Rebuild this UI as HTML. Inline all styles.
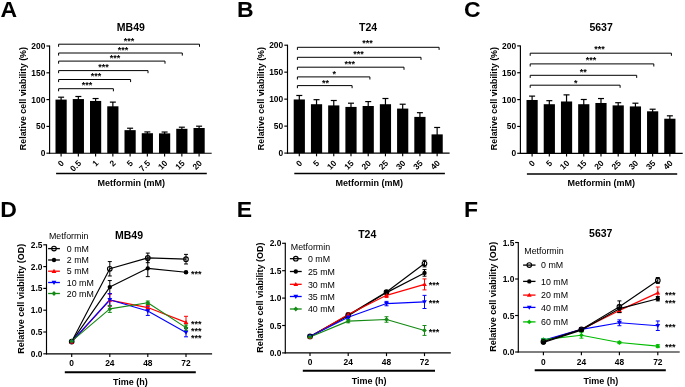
<!DOCTYPE html>
<html><head><meta charset="utf-8"><style>
html,body{margin:0;padding:0;background:#fff;width:685px;height:387px;overflow:hidden}
svg{display:block;will-change:transform;filter:blur(0.3px)}
text{font-family:"Liberation Sans", sans-serif}
</style></head><body>
<svg width="685" height="387" viewBox="0 0 685 387">
<rect width="685" height="387" fill="#fff"/>
<line x1="49.6" y1="45.5" x2="49.6" y2="153.77" stroke="#000" stroke-width="1.15" stroke-linecap="butt"/>
<line x1="46.4" y1="153.2" x2="49.6" y2="153.2" stroke="#000" stroke-width="1.15" stroke-linecap="butt"/>
<text x="45.3" y="156.2" font-size="8.4" font-weight="bold" text-anchor="end" fill="#000">0</text>
<line x1="46.4" y1="126.4" x2="49.6" y2="126.4" stroke="#000" stroke-width="1.15" stroke-linecap="butt"/>
<text x="45.3" y="129.4" font-size="8.4" font-weight="bold" text-anchor="end" fill="#000">50</text>
<line x1="46.4" y1="99.6" x2="49.6" y2="99.6" stroke="#000" stroke-width="1.15" stroke-linecap="butt"/>
<text x="45.3" y="102.6" font-size="8.4" font-weight="bold" text-anchor="end" fill="#000">100</text>
<line x1="46.4" y1="72.8" x2="49.6" y2="72.8" stroke="#000" stroke-width="1.15" stroke-linecap="butt"/>
<text x="45.3" y="75.8" font-size="8.4" font-weight="bold" text-anchor="end" fill="#000">150</text>
<line x1="46.4" y1="46" x2="49.6" y2="46" stroke="#000" stroke-width="1.15" stroke-linecap="butt"/>
<text x="45.3" y="49" font-size="8.4" font-weight="bold" text-anchor="end" fill="#000">200</text>
<line x1="49.02" y1="153.2" x2="211.7" y2="153.2" stroke="#000" stroke-width="1.15" stroke-linecap="butt"/>
<line x1="61.1" y1="97.19" x2="61.1" y2="100.6" stroke="#000" stroke-width="1.2" stroke-linecap="butt"/>
<line x1="58.1" y1="97.19" x2="64.1" y2="97.19" stroke="#000" stroke-width="1.2" stroke-linecap="butt"/>
<rect x="55.5" y="99.6" width="11.2" height="53.6" fill="#000"/>
<line x1="61.1" y1="153.2" x2="61.1" y2="156.4" stroke="#000" stroke-width="1.15" stroke-linecap="butt"/>
<text x="64.5" y="163.7" font-size="8.4" font-weight="bold" text-anchor="end" fill="#000" transform="rotate(-45 64.5 163.7)">0</text>
<line x1="78.35" y1="96.49" x2="78.35" y2="100.06" stroke="#000" stroke-width="1.2" stroke-linecap="butt"/>
<line x1="75.35" y1="96.49" x2="81.35" y2="96.49" stroke="#000" stroke-width="1.2" stroke-linecap="butt"/>
<rect x="72.75" y="99.06" width="11.2" height="54.14" fill="#000"/>
<line x1="78.35" y1="153.2" x2="78.35" y2="156.4" stroke="#000" stroke-width="1.15" stroke-linecap="butt"/>
<text x="81.75" y="163.7" font-size="8.4" font-weight="bold" text-anchor="end" fill="#000" transform="rotate(-45 81.75 163.7)">0.5</text>
<line x1="95.6" y1="98.53" x2="95.6" y2="101.94" stroke="#000" stroke-width="1.2" stroke-linecap="butt"/>
<line x1="92.6" y1="98.53" x2="98.6" y2="98.53" stroke="#000" stroke-width="1.2" stroke-linecap="butt"/>
<rect x="90" y="100.94" width="11.2" height="52.26" fill="#000"/>
<line x1="95.6" y1="153.2" x2="95.6" y2="156.4" stroke="#000" stroke-width="1.15" stroke-linecap="butt"/>
<text x="99" y="163.7" font-size="8.4" font-weight="bold" text-anchor="end" fill="#000" transform="rotate(-45 99 163.7)">1</text>
<line x1="112.85" y1="102.12" x2="112.85" y2="107.3" stroke="#000" stroke-width="1.2" stroke-linecap="butt"/>
<line x1="109.85" y1="102.12" x2="115.85" y2="102.12" stroke="#000" stroke-width="1.2" stroke-linecap="butt"/>
<rect x="107.25" y="106.3" width="11.2" height="46.9" fill="#000"/>
<line x1="112.85" y1="153.2" x2="112.85" y2="156.4" stroke="#000" stroke-width="1.15" stroke-linecap="butt"/>
<text x="116.25" y="163.7" font-size="8.4" font-weight="bold" text-anchor="end" fill="#000" transform="rotate(-45 116.25 163.7)">2</text>
<line x1="130.1" y1="128.22" x2="130.1" y2="131.15" stroke="#000" stroke-width="1.2" stroke-linecap="butt"/>
<line x1="127.1" y1="128.22" x2="133.1" y2="128.22" stroke="#000" stroke-width="1.2" stroke-linecap="butt"/>
<rect x="124.5" y="130.15" width="11.2" height="23.05" fill="#000"/>
<line x1="130.1" y1="153.2" x2="130.1" y2="156.4" stroke="#000" stroke-width="1.15" stroke-linecap="butt"/>
<text x="133.5" y="163.7" font-size="8.4" font-weight="bold" text-anchor="end" fill="#000" transform="rotate(-45 133.5 163.7)">5</text>
<line x1="147.35" y1="131.92" x2="147.35" y2="134.21" stroke="#000" stroke-width="1.2" stroke-linecap="butt"/>
<line x1="144.35" y1="131.92" x2="150.35" y2="131.92" stroke="#000" stroke-width="1.2" stroke-linecap="butt"/>
<rect x="141.75" y="133.21" width="11.2" height="19.99" fill="#000"/>
<line x1="147.35" y1="153.2" x2="147.35" y2="156.4" stroke="#000" stroke-width="1.15" stroke-linecap="butt"/>
<text x="150.75" y="163.7" font-size="8.4" font-weight="bold" text-anchor="end" fill="#000" transform="rotate(-45 150.75 163.7)">7.5</text>
<line x1="164.6" y1="132.03" x2="164.6" y2="134.37" stroke="#000" stroke-width="1.2" stroke-linecap="butt"/>
<line x1="161.6" y1="132.03" x2="167.6" y2="132.03" stroke="#000" stroke-width="1.2" stroke-linecap="butt"/>
<rect x="159" y="133.37" width="11.2" height="19.83" fill="#000"/>
<line x1="164.6" y1="153.2" x2="164.6" y2="156.4" stroke="#000" stroke-width="1.15" stroke-linecap="butt"/>
<text x="168" y="163.7" font-size="8.4" font-weight="bold" text-anchor="end" fill="#000" transform="rotate(-45 168 163.7)">10</text>
<line x1="181.85" y1="127.2" x2="181.85" y2="129.81" stroke="#000" stroke-width="1.2" stroke-linecap="butt"/>
<line x1="178.85" y1="127.2" x2="184.85" y2="127.2" stroke="#000" stroke-width="1.2" stroke-linecap="butt"/>
<rect x="176.25" y="128.81" width="11.2" height="24.39" fill="#000"/>
<line x1="181.85" y1="153.2" x2="181.85" y2="156.4" stroke="#000" stroke-width="1.15" stroke-linecap="butt"/>
<text x="185.25" y="163.7" font-size="8.4" font-weight="bold" text-anchor="end" fill="#000" transform="rotate(-45 185.25 163.7)">15</text>
<line x1="199.1" y1="126.19" x2="199.1" y2="129.01" stroke="#000" stroke-width="1.2" stroke-linecap="butt"/>
<line x1="196.1" y1="126.19" x2="202.1" y2="126.19" stroke="#000" stroke-width="1.2" stroke-linecap="butt"/>
<rect x="193.5" y="128.01" width="11.2" height="25.19" fill="#000"/>
<line x1="199.1" y1="153.2" x2="199.1" y2="156.4" stroke="#000" stroke-width="1.15" stroke-linecap="butt"/>
<text x="202.5" y="163.7" font-size="8.4" font-weight="bold" text-anchor="end" fill="#000" transform="rotate(-45 202.5 163.7)">20</text>
<line x1="56.1" y1="173.4" x2="206.8" y2="173.4" stroke="#000" stroke-width="1.5" stroke-linecap="butt"/>
<text x="97.5" y="185.7" font-size="9" font-weight="bold" text-anchor="start" fill="#000">Metformin (mM)</text>
<text x="25.8" y="98.6" font-size="8.9" font-weight="bold" text-anchor="middle" fill="#000" transform="rotate(-90 25.8 98.6)">Relative cell viability (%)</text>
<path d="M58.6 46.8V44.2H199.5V46.8" fill="none" stroke="#000" stroke-width="1.0"/>
<text x="129.05" y="44" font-size="9" font-weight="bold" text-anchor="middle" fill="#000">***</text>
<path d="M58.6 55.6V53H182.3V55.6" fill="none" stroke="#000" stroke-width="1.0"/>
<text x="123.05" y="53.1" font-size="9" font-weight="bold" text-anchor="middle" fill="#000">***</text>
<path d="M58.6 63.7V61.1H165V63.7" fill="none" stroke="#000" stroke-width="1.0"/>
<text x="114.9" y="61.1" font-size="9" font-weight="bold" text-anchor="middle" fill="#000">***</text>
<path d="M58.6 73.2V70.6H148V73.2" fill="none" stroke="#000" stroke-width="1.0"/>
<text x="103.5" y="70.3" font-size="9" font-weight="bold" text-anchor="middle" fill="#000">***</text>
<path d="M58.6 82.1V79.5H130.6V82.1" fill="none" stroke="#000" stroke-width="1.0"/>
<text x="96.1" y="78.5" font-size="9" font-weight="bold" text-anchor="middle" fill="#000">***</text>
<path d="M58.6 91.3V88.7H113.4V91.3" fill="none" stroke="#000" stroke-width="1.0"/>
<text x="87" y="87.7" font-size="9" font-weight="bold" text-anchor="middle" fill="#000">***</text>
<text x="116.8" y="30.6" font-size="10.5" font-weight="bold" text-anchor="start" fill="#000">MB49</text>
<text transform="translate(0.6 16.8) scale(1.07 1)" font-size="21.5" font-weight="bold">A</text>
<line x1="287.5" y1="44.7" x2="287.5" y2="153.67" stroke="#000" stroke-width="1.15" stroke-linecap="butt"/>
<line x1="284.3" y1="153.1" x2="287.5" y2="153.1" stroke="#000" stroke-width="1.15" stroke-linecap="butt"/>
<text x="283.2" y="156.1" font-size="8.4" font-weight="bold" text-anchor="end" fill="#000">0</text>
<line x1="284.3" y1="126.12" x2="287.5" y2="126.12" stroke="#000" stroke-width="1.15" stroke-linecap="butt"/>
<text x="283.2" y="129.12" font-size="8.4" font-weight="bold" text-anchor="end" fill="#000">50</text>
<line x1="284.3" y1="99.15" x2="287.5" y2="99.15" stroke="#000" stroke-width="1.15" stroke-linecap="butt"/>
<text x="283.2" y="102.15" font-size="8.4" font-weight="bold" text-anchor="end" fill="#000">100</text>
<line x1="284.3" y1="72.17" x2="287.5" y2="72.17" stroke="#000" stroke-width="1.15" stroke-linecap="butt"/>
<text x="283.2" y="75.17" font-size="8.4" font-weight="bold" text-anchor="end" fill="#000">150</text>
<line x1="284.3" y1="45.2" x2="287.5" y2="45.2" stroke="#000" stroke-width="1.15" stroke-linecap="butt"/>
<text x="283.2" y="48.2" font-size="8.4" font-weight="bold" text-anchor="end" fill="#000">200</text>
<line x1="286.93" y1="153.1" x2="449.6" y2="153.1" stroke="#000" stroke-width="1.15" stroke-linecap="butt"/>
<line x1="299.3" y1="95.48" x2="299.3" y2="100.47" stroke="#000" stroke-width="1.2" stroke-linecap="butt"/>
<line x1="296.3" y1="95.48" x2="302.3" y2="95.48" stroke="#000" stroke-width="1.2" stroke-linecap="butt"/>
<rect x="293.7" y="99.47" width="11.2" height="53.63" fill="#000"/>
<line x1="299.3" y1="153.1" x2="299.3" y2="156.3" stroke="#000" stroke-width="1.15" stroke-linecap="butt"/>
<text x="302.7" y="163.7" font-size="8.4" font-weight="bold" text-anchor="end" fill="#000" transform="rotate(-45 302.7 163.7)">0</text>
<line x1="316.53" y1="99.69" x2="316.53" y2="105.22" stroke="#000" stroke-width="1.2" stroke-linecap="butt"/>
<line x1="313.53" y1="99.69" x2="319.53" y2="99.69" stroke="#000" stroke-width="1.2" stroke-linecap="butt"/>
<rect x="310.93" y="104.22" width="11.2" height="48.88" fill="#000"/>
<line x1="316.53" y1="153.1" x2="316.53" y2="156.3" stroke="#000" stroke-width="1.15" stroke-linecap="butt"/>
<text x="319.93" y="163.7" font-size="8.4" font-weight="bold" text-anchor="end" fill="#000" transform="rotate(-45 319.93 163.7)">5</text>
<line x1="333.76" y1="100.5" x2="333.76" y2="106.41" stroke="#000" stroke-width="1.2" stroke-linecap="butt"/>
<line x1="330.76" y1="100.5" x2="336.76" y2="100.5" stroke="#000" stroke-width="1.2" stroke-linecap="butt"/>
<rect x="328.16" y="105.41" width="11.2" height="47.69" fill="#000"/>
<line x1="333.76" y1="153.1" x2="333.76" y2="156.3" stroke="#000" stroke-width="1.15" stroke-linecap="butt"/>
<text x="337.16" y="163.7" font-size="8.4" font-weight="bold" text-anchor="end" fill="#000" transform="rotate(-45 337.16 163.7)">10</text>
<line x1="350.99" y1="103.2" x2="350.99" y2="107.92" stroke="#000" stroke-width="1.2" stroke-linecap="butt"/>
<line x1="347.99" y1="103.2" x2="353.99" y2="103.2" stroke="#000" stroke-width="1.2" stroke-linecap="butt"/>
<rect x="345.39" y="106.92" width="11.2" height="46.18" fill="#000"/>
<line x1="350.99" y1="153.1" x2="350.99" y2="156.3" stroke="#000" stroke-width="1.15" stroke-linecap="butt"/>
<text x="354.39" y="163.7" font-size="8.4" font-weight="bold" text-anchor="end" fill="#000" transform="rotate(-45 354.39 163.7)">15</text>
<line x1="368.22" y1="101.58" x2="368.22" y2="107" stroke="#000" stroke-width="1.2" stroke-linecap="butt"/>
<line x1="365.22" y1="101.58" x2="371.22" y2="101.58" stroke="#000" stroke-width="1.2" stroke-linecap="butt"/>
<rect x="362.62" y="106" width="11.2" height="47.1" fill="#000"/>
<line x1="368.22" y1="153.1" x2="368.22" y2="156.3" stroke="#000" stroke-width="1.15" stroke-linecap="butt"/>
<text x="371.62" y="163.7" font-size="8.4" font-weight="bold" text-anchor="end" fill="#000" transform="rotate(-45 371.62 163.7)">20</text>
<line x1="385.45" y1="98.5" x2="385.45" y2="105.22" stroke="#000" stroke-width="1.2" stroke-linecap="butt"/>
<line x1="382.45" y1="98.5" x2="388.45" y2="98.5" stroke="#000" stroke-width="1.2" stroke-linecap="butt"/>
<rect x="379.85" y="104.22" width="11.2" height="48.88" fill="#000"/>
<line x1="385.45" y1="153.1" x2="385.45" y2="156.3" stroke="#000" stroke-width="1.15" stroke-linecap="butt"/>
<text x="388.85" y="163.7" font-size="8.4" font-weight="bold" text-anchor="end" fill="#000" transform="rotate(-45 388.85 163.7)">25</text>
<line x1="402.68" y1="104.22" x2="402.68" y2="109.59" stroke="#000" stroke-width="1.2" stroke-linecap="butt"/>
<line x1="399.68" y1="104.22" x2="405.68" y2="104.22" stroke="#000" stroke-width="1.2" stroke-linecap="butt"/>
<rect x="397.08" y="108.59" width="11.2" height="44.51" fill="#000"/>
<line x1="402.68" y1="153.1" x2="402.68" y2="156.3" stroke="#000" stroke-width="1.15" stroke-linecap="butt"/>
<text x="406.08" y="163.7" font-size="8.4" font-weight="bold" text-anchor="end" fill="#000" transform="rotate(-45 406.08 163.7)">30</text>
<line x1="419.91" y1="112.69" x2="419.91" y2="117.9" stroke="#000" stroke-width="1.2" stroke-linecap="butt"/>
<line x1="416.91" y1="112.69" x2="422.91" y2="112.69" stroke="#000" stroke-width="1.2" stroke-linecap="butt"/>
<rect x="414.31" y="116.9" width="11.2" height="36.2" fill="#000"/>
<line x1="419.91" y1="153.1" x2="419.91" y2="156.3" stroke="#000" stroke-width="1.15" stroke-linecap="butt"/>
<text x="423.31" y="163.7" font-size="8.4" font-weight="bold" text-anchor="end" fill="#000" transform="rotate(-45 423.31 163.7)">35</text>
<line x1="437.14" y1="127.47" x2="437.14" y2="135.38" stroke="#000" stroke-width="1.2" stroke-linecap="butt"/>
<line x1="434.14" y1="127.47" x2="440.14" y2="127.47" stroke="#000" stroke-width="1.2" stroke-linecap="butt"/>
<rect x="431.54" y="134.38" width="11.2" height="18.72" fill="#000"/>
<line x1="437.14" y1="153.1" x2="437.14" y2="156.3" stroke="#000" stroke-width="1.15" stroke-linecap="butt"/>
<text x="440.54" y="163.7" font-size="8.4" font-weight="bold" text-anchor="end" fill="#000" transform="rotate(-45 440.54 163.7)">40</text>
<line x1="294.3" y1="173.5" x2="444.9" y2="173.5" stroke="#000" stroke-width="1.5" stroke-linecap="butt"/>
<text x="335.5" y="185.9" font-size="9" font-weight="bold" text-anchor="start" fill="#000">Metformin (mM)</text>
<text x="264" y="98.6" font-size="8.9" font-weight="bold" text-anchor="middle" fill="#000" transform="rotate(-90 264 98.6)">Relative cell viability (%)</text>
<path d="M297.4 49.9V47.3H439.1V49.9" fill="none" stroke="#000" stroke-width="1.0"/>
<text x="367.4" y="46.3" font-size="9" font-weight="bold" text-anchor="middle" fill="#000">***</text>
<path d="M297.4 59.9V57.3H421V59.9" fill="none" stroke="#000" stroke-width="1.0"/>
<text x="358.4" y="57.4" font-size="9" font-weight="bold" text-anchor="middle" fill="#000">***</text>
<path d="M297.4 69.8V67.2H404V69.8" fill="none" stroke="#000" stroke-width="1.0"/>
<text x="349.8" y="67.4" font-size="9" font-weight="bold" text-anchor="middle" fill="#000">***</text>
<path d="M297.4 79.5V76.9H369.9V79.5" fill="none" stroke="#000" stroke-width="1.0"/>
<text x="334.25" y="76.8" font-size="9" font-weight="bold" text-anchor="middle" fill="#000">*</text>
<path d="M297.4 88.2V85.6H352.1V88.2" fill="none" stroke="#000" stroke-width="1.0"/>
<text x="325.45" y="85.7" font-size="9" font-weight="bold" text-anchor="middle" fill="#000">**</text>
<text x="359.1" y="30.6" font-size="10.5" font-weight="bold" text-anchor="start" fill="#000">T24</text>
<text transform="translate(236.9 16.8) scale(1.07 1)" font-size="21.5" font-weight="bold">B</text>
<line x1="520.4" y1="45.4" x2="520.4" y2="153.88" stroke="#000" stroke-width="1.15" stroke-linecap="butt"/>
<line x1="517.2" y1="153.3" x2="520.4" y2="153.3" stroke="#000" stroke-width="1.15" stroke-linecap="butt"/>
<text x="516.1" y="156.3" font-size="8.4" font-weight="bold" text-anchor="end" fill="#000">0</text>
<line x1="517.2" y1="126.45" x2="520.4" y2="126.45" stroke="#000" stroke-width="1.15" stroke-linecap="butt"/>
<text x="516.1" y="129.45" font-size="8.4" font-weight="bold" text-anchor="end" fill="#000">50</text>
<line x1="517.2" y1="99.6" x2="520.4" y2="99.6" stroke="#000" stroke-width="1.15" stroke-linecap="butt"/>
<text x="516.1" y="102.6" font-size="8.4" font-weight="bold" text-anchor="end" fill="#000">100</text>
<line x1="517.2" y1="72.75" x2="520.4" y2="72.75" stroke="#000" stroke-width="1.15" stroke-linecap="butt"/>
<text x="516.1" y="75.75" font-size="8.4" font-weight="bold" text-anchor="end" fill="#000">150</text>
<line x1="517.2" y1="45.9" x2="520.4" y2="45.9" stroke="#000" stroke-width="1.15" stroke-linecap="butt"/>
<text x="516.1" y="48.9" font-size="8.4" font-weight="bold" text-anchor="end" fill="#000">200</text>
<line x1="519.82" y1="153.3" x2="682.7" y2="153.3" stroke="#000" stroke-width="1.15" stroke-linecap="butt"/>
<line x1="532.1" y1="96.11" x2="532.1" y2="100.98" stroke="#000" stroke-width="1.2" stroke-linecap="butt"/>
<line x1="529.1" y1="96.11" x2="535.1" y2="96.11" stroke="#000" stroke-width="1.2" stroke-linecap="butt"/>
<rect x="526.5" y="99.98" width="11.2" height="53.32" fill="#000"/>
<line x1="532.1" y1="153.3" x2="532.1" y2="156.5" stroke="#000" stroke-width="1.15" stroke-linecap="butt"/>
<text x="535.5" y="163.7" font-size="8.4" font-weight="bold" text-anchor="end" fill="#000" transform="rotate(-45 535.5 163.7)">0</text>
<line x1="549.32" y1="100.67" x2="549.32" y2="105.22" stroke="#000" stroke-width="1.2" stroke-linecap="butt"/>
<line x1="546.32" y1="100.67" x2="552.32" y2="100.67" stroke="#000" stroke-width="1.2" stroke-linecap="butt"/>
<rect x="543.72" y="104.22" width="11.2" height="49.08" fill="#000"/>
<line x1="549.32" y1="153.3" x2="549.32" y2="156.5" stroke="#000" stroke-width="1.15" stroke-linecap="butt"/>
<text x="552.72" y="163.7" font-size="8.4" font-weight="bold" text-anchor="end" fill="#000" transform="rotate(-45 552.72 163.7)">5</text>
<line x1="566.54" y1="94.87" x2="566.54" y2="102.48" stroke="#000" stroke-width="1.2" stroke-linecap="butt"/>
<line x1="563.54" y1="94.87" x2="569.54" y2="94.87" stroke="#000" stroke-width="1.2" stroke-linecap="butt"/>
<rect x="560.94" y="101.48" width="11.2" height="51.82" fill="#000"/>
<line x1="566.54" y1="153.3" x2="566.54" y2="156.5" stroke="#000" stroke-width="1.15" stroke-linecap="butt"/>
<text x="569.94" y="163.7" font-size="8.4" font-weight="bold" text-anchor="end" fill="#000" transform="rotate(-45 569.94 163.7)">10</text>
<line x1="583.76" y1="99.49" x2="583.76" y2="105.22" stroke="#000" stroke-width="1.2" stroke-linecap="butt"/>
<line x1="580.76" y1="99.49" x2="586.76" y2="99.49" stroke="#000" stroke-width="1.2" stroke-linecap="butt"/>
<rect x="578.16" y="104.22" width="11.2" height="49.08" fill="#000"/>
<line x1="583.76" y1="153.3" x2="583.76" y2="156.5" stroke="#000" stroke-width="1.15" stroke-linecap="butt"/>
<text x="587.16" y="163.7" font-size="8.4" font-weight="bold" text-anchor="end" fill="#000" transform="rotate(-45 587.16 163.7)">15</text>
<line x1="600.98" y1="98.53" x2="600.98" y2="103.98" stroke="#000" stroke-width="1.2" stroke-linecap="butt"/>
<line x1="597.98" y1="98.53" x2="603.98" y2="98.53" stroke="#000" stroke-width="1.2" stroke-linecap="butt"/>
<rect x="595.38" y="102.98" width="11.2" height="50.32" fill="#000"/>
<line x1="600.98" y1="153.3" x2="600.98" y2="156.5" stroke="#000" stroke-width="1.15" stroke-linecap="butt"/>
<text x="604.38" y="163.7" font-size="8.4" font-weight="bold" text-anchor="end" fill="#000" transform="rotate(-45 604.38 163.7)">20</text>
<line x1="618.2" y1="102.71" x2="618.2" y2="106.4" stroke="#000" stroke-width="1.2" stroke-linecap="butt"/>
<line x1="615.2" y1="102.71" x2="621.2" y2="102.71" stroke="#000" stroke-width="1.2" stroke-linecap="butt"/>
<rect x="612.6" y="105.4" width="11.2" height="47.9" fill="#000"/>
<line x1="618.2" y1="153.3" x2="618.2" y2="156.5" stroke="#000" stroke-width="1.15" stroke-linecap="butt"/>
<text x="621.6" y="163.7" font-size="8.4" font-weight="bold" text-anchor="end" fill="#000" transform="rotate(-45 621.6 163.7)">25</text>
<line x1="635.42" y1="103.2" x2="635.42" y2="107.42" stroke="#000" stroke-width="1.2" stroke-linecap="butt"/>
<line x1="632.42" y1="103.2" x2="638.42" y2="103.2" stroke="#000" stroke-width="1.2" stroke-linecap="butt"/>
<rect x="629.82" y="106.42" width="11.2" height="46.88" fill="#000"/>
<line x1="635.42" y1="153.3" x2="635.42" y2="156.5" stroke="#000" stroke-width="1.15" stroke-linecap="butt"/>
<text x="638.82" y="163.7" font-size="8.4" font-weight="bold" text-anchor="end" fill="#000" transform="rotate(-45 638.82 163.7)">30</text>
<line x1="652.64" y1="109.21" x2="652.64" y2="112.31" stroke="#000" stroke-width="1.2" stroke-linecap="butt"/>
<line x1="649.64" y1="109.21" x2="655.64" y2="109.21" stroke="#000" stroke-width="1.2" stroke-linecap="butt"/>
<rect x="647.04" y="111.31" width="11.2" height="41.99" fill="#000"/>
<line x1="652.64" y1="153.3" x2="652.64" y2="156.5" stroke="#000" stroke-width="1.15" stroke-linecap="butt"/>
<text x="656.04" y="163.7" font-size="8.4" font-weight="bold" text-anchor="end" fill="#000" transform="rotate(-45 656.04 163.7)">35</text>
<line x1="669.86" y1="115.82" x2="669.86" y2="119.72" stroke="#000" stroke-width="1.2" stroke-linecap="butt"/>
<line x1="666.86" y1="115.82" x2="672.86" y2="115.82" stroke="#000" stroke-width="1.2" stroke-linecap="butt"/>
<rect x="664.26" y="118.72" width="11.2" height="34.58" fill="#000"/>
<line x1="669.86" y1="153.3" x2="669.86" y2="156.5" stroke="#000" stroke-width="1.15" stroke-linecap="butt"/>
<text x="673.26" y="163.7" font-size="8.4" font-weight="bold" text-anchor="end" fill="#000" transform="rotate(-45 673.26 163.7)">40</text>
<line x1="526.9" y1="174" x2="677.2" y2="174" stroke="#000" stroke-width="1.5" stroke-linecap="butt"/>
<text x="567.6" y="186.2" font-size="9" font-weight="bold" text-anchor="start" fill="#000">Metformin (mM)</text>
<text x="496.6" y="98.6" font-size="8.9" font-weight="bold" text-anchor="middle" fill="#000" transform="rotate(-90 496.6 98.6)">Relative cell viability (%)</text>
<path d="M530.2 55.8V53.2H671.4V55.8" fill="none" stroke="#000" stroke-width="1.0"/>
<text x="599.4" y="52.2" font-size="9" font-weight="bold" text-anchor="middle" fill="#000">***</text>
<path d="M530.2 66.5V63.9H653.8V66.5" fill="none" stroke="#000" stroke-width="1.0"/>
<text x="591" y="63.4" font-size="9" font-weight="bold" text-anchor="middle" fill="#000">***</text>
<path d="M530.2 77.9V75.3H636.7V77.9" fill="none" stroke="#000" stroke-width="1.0"/>
<text x="583.25" y="74.7" font-size="9" font-weight="bold" text-anchor="middle" fill="#000">**</text>
<path d="M530.2 87.8V85.2H620.1V87.8" fill="none" stroke="#000" stroke-width="1.0"/>
<text x="575.8" y="85.5" font-size="9" font-weight="bold" text-anchor="middle" fill="#000">*</text>
<text x="589.4" y="31" font-size="10.5" font-weight="bold" text-anchor="start" fill="#000">5637</text>
<text transform="translate(464 16.8) scale(1.07 1)" font-size="21.5" font-weight="bold">C</text>
<line x1="46.5" y1="244.3" x2="46.5" y2="354.38" stroke="#000" stroke-width="1.15" stroke-linecap="butt"/>
<line x1="43.3" y1="353.8" x2="46.5" y2="353.8" stroke="#000" stroke-width="1.15" stroke-linecap="butt"/>
<text x="42.5" y="356.8" font-size="8.4" font-weight="bold" text-anchor="end" fill="#000">0.0</text>
<line x1="43.3" y1="332" x2="46.5" y2="332" stroke="#000" stroke-width="1.15" stroke-linecap="butt"/>
<text x="42.5" y="335" font-size="8.4" font-weight="bold" text-anchor="end" fill="#000">0.5</text>
<line x1="43.3" y1="310.2" x2="46.5" y2="310.2" stroke="#000" stroke-width="1.15" stroke-linecap="butt"/>
<text x="42.5" y="313.2" font-size="8.4" font-weight="bold" text-anchor="end" fill="#000">1.0</text>
<line x1="43.3" y1="288.4" x2="46.5" y2="288.4" stroke="#000" stroke-width="1.15" stroke-linecap="butt"/>
<text x="42.5" y="291.4" font-size="8.4" font-weight="bold" text-anchor="end" fill="#000">1.5</text>
<line x1="43.3" y1="266.6" x2="46.5" y2="266.6" stroke="#000" stroke-width="1.15" stroke-linecap="butt"/>
<text x="42.5" y="269.6" font-size="8.4" font-weight="bold" text-anchor="end" fill="#000">2.0</text>
<line x1="43.3" y1="244.8" x2="46.5" y2="244.8" stroke="#000" stroke-width="1.15" stroke-linecap="butt"/>
<text x="42.5" y="247.8" font-size="8.4" font-weight="bold" text-anchor="end" fill="#000">2.5</text>
<line x1="45.92" y1="353.8" x2="212.1" y2="353.8" stroke="#000" stroke-width="1.15" stroke-linecap="butt"/>
<line x1="71.7" y1="353.8" x2="71.7" y2="357" stroke="#000" stroke-width="1.15" stroke-linecap="butt"/>
<text x="71.7" y="366" font-size="8.4" font-weight="bold" text-anchor="middle" fill="#000">0</text>
<line x1="109.8" y1="353.8" x2="109.8" y2="357" stroke="#000" stroke-width="1.15" stroke-linecap="butt"/>
<text x="109.8" y="366" font-size="8.4" font-weight="bold" text-anchor="middle" fill="#000">24</text>
<line x1="147.8" y1="353.8" x2="147.8" y2="357" stroke="#000" stroke-width="1.15" stroke-linecap="butt"/>
<text x="147.8" y="366" font-size="8.4" font-weight="bold" text-anchor="middle" fill="#000">48</text>
<line x1="186" y1="353.8" x2="186" y2="357" stroke="#000" stroke-width="1.15" stroke-linecap="butt"/>
<text x="186" y="366" font-size="8.4" font-weight="bold" text-anchor="middle" fill="#000">72</text>
<line x1="64.8" y1="372.2" x2="195.8" y2="372.2" stroke="#000" stroke-width="2" stroke-linecap="butt"/>
<text x="130.3" y="384.8" font-size="9" font-weight="bold" text-anchor="middle" fill="#000">Time (h)</text>
<text x="24.3" y="298.75" font-size="9" font-weight="bold" text-anchor="middle" fill="#000" transform="rotate(-90 24.3 298.75)">Relative cell viability (OD)</text>
<polyline points="71.7,341.59 109.8,268.78 147.8,257.88 186,259.19" fill="none" stroke="#000" stroke-width="1.15" stroke-linejoin="round"/>
<path d="M71.7 340.72V342.46M69.7 340.72H73.7M69.7 342.46H73.7" stroke="#000" stroke-width="1.0" fill="none"/>
<path d="M109.8 261.59V275.97M107.8 261.59H111.8M107.8 275.97H111.8" stroke="#000" stroke-width="1.0" fill="none"/>
<path d="M147.8 253.08V262.68M145.8 253.08H149.8M145.8 262.68H149.8" stroke="#000" stroke-width="1.0" fill="none"/>
<path d="M186 254.39V263.98M184 254.39H188M184 263.98H188" stroke="#000" stroke-width="1.0" fill="none"/>
<polyline points="71.7,341.59 109.8,287.09 147.8,268.34 186,272.27" fill="none" stroke="#000" stroke-width="1.15" stroke-linejoin="round"/>
<path d="M71.7 340.72V342.46M69.7 340.72H73.7M69.7 342.46H73.7" stroke="#000" stroke-width="1.0" fill="none"/>
<path d="M109.8 280.55V293.63M107.8 280.55H111.8M107.8 293.63H111.8" stroke="#000" stroke-width="1.0" fill="none"/>
<path d="M147.8 260.06V276.63M145.8 260.06H149.8M145.8 276.63H149.8" stroke="#000" stroke-width="1.0" fill="none"/>
<path d="M186 271.4V273.14M184 271.4H188M184 273.14H188" stroke="#000" stroke-width="1.0" fill="none"/>
<polyline points="71.7,342.03 109.8,300.17 147.8,307.58 186,322.41" fill="none" stroke="#ff0000" stroke-width="1.15" stroke-linejoin="round"/>
<path d="M71.7 341.16V342.9M69.7 341.16H73.7M69.7 342.9H73.7" stroke="#ff0000" stroke-width="1.0" fill="none"/>
<path d="M109.8 294.07V306.28M107.8 294.07H111.8M107.8 306.28H111.8" stroke="#ff0000" stroke-width="1.0" fill="none"/>
<path d="M147.8 305.4V309.76M145.8 305.4H149.8M145.8 309.76H149.8" stroke="#ff0000" stroke-width="1.0" fill="none"/>
<path d="M186 316.3V328.51M184 316.3H188M184 328.51H188" stroke="#ff0000" stroke-width="1.0" fill="none"/>
<polyline points="71.7,341.59 109.8,299.74 147.8,311.07 186,332.44" fill="none" stroke="#0000ff" stroke-width="1.15" stroke-linejoin="round"/>
<path d="M71.7 340.72V342.46M69.7 340.72H73.7M69.7 342.46H73.7" stroke="#0000ff" stroke-width="1.0" fill="none"/>
<path d="M109.8 293.63V305.84M107.8 293.63H111.8M107.8 305.84H111.8" stroke="#0000ff" stroke-width="1.0" fill="none"/>
<path d="M147.8 306.71V315.43M145.8 306.71H149.8M145.8 315.43H149.8" stroke="#0000ff" stroke-width="1.0" fill="none"/>
<path d="M186 328.08V336.8M184 328.08H188M184 336.8H188" stroke="#0000ff" stroke-width="1.0" fill="none"/>
<polyline points="71.7,341.16 109.8,308.89 147.8,302.79 186,327.64" fill="none" stroke="#138a13" stroke-width="1.15" stroke-linejoin="round"/>
<path d="M71.7 340.28V342.03M69.7 340.28H73.7M69.7 342.03H73.7" stroke="#138a13" stroke-width="1.0" fill="none"/>
<path d="M109.8 305.4V312.38M107.8 305.4H111.8M107.8 312.38H111.8" stroke="#138a13" stroke-width="1.0" fill="none"/>
<path d="M147.8 301.04V304.53M145.8 301.04H149.8M145.8 304.53H149.8" stroke="#138a13" stroke-width="1.0" fill="none"/>
<path d="M186 325.02V330.26M184 325.02H188M184 330.26H188" stroke="#138a13" stroke-width="1.0" fill="none"/>
<circle cx="71.7" cy="341.59" r="2.3" fill="none" stroke="#000" stroke-width="1.1"/>
<circle cx="109.8" cy="268.78" r="2.3" fill="none" stroke="#000" stroke-width="1.1"/>
<circle cx="147.8" cy="257.88" r="2.3" fill="none" stroke="#000" stroke-width="1.1"/>
<circle cx="186" cy="259.19" r="2.3" fill="none" stroke="#000" stroke-width="1.1"/>
<circle cx="71.7" cy="341.59" r="2.2" fill="#000"/>
<circle cx="109.8" cy="287.09" r="2.2" fill="#000"/>
<circle cx="147.8" cy="268.34" r="2.2" fill="#000"/>
<circle cx="186" cy="272.27" r="2.2" fill="#000"/>
<path d="M71.7 339.63L74.1 343.73L69.3 343.73Z" fill="#ff0000"/>
<path d="M109.8 297.77L112.2 301.87L107.4 301.87Z" fill="#ff0000"/>
<path d="M147.8 305.18L150.2 309.28L145.4 309.28Z" fill="#ff0000"/>
<path d="M186 320.01L188.4 324.11L183.6 324.11Z" fill="#ff0000"/>
<path d="M71.7 343.99L74.1 339.89L69.3 339.89Z" fill="#0000ff"/>
<path d="M109.8 302.14L112.2 298.04L107.4 298.04Z" fill="#0000ff"/>
<path d="M147.8 313.47L150.2 309.37L145.4 309.37Z" fill="#0000ff"/>
<path d="M186 334.84L188.4 330.74L183.6 330.74Z" fill="#0000ff"/>
<path d="M71.7 338.76L74 341.16L71.7 343.56L69.4 341.16Z" fill="#138a13"/>
<path d="M109.8 306.49L112.1 308.89L109.8 311.29L107.5 308.89Z" fill="#138a13"/>
<path d="M147.8 300.39L150.1 302.79L147.8 305.19L145.5 302.79Z" fill="#138a13"/>
<path d="M186 325.24L188.3 327.64L186 330.04L183.7 327.64Z" fill="#138a13"/>
<text x="191.1" y="277.1" font-size="9" font-weight="bold" text-anchor="start" fill="#000">***</text>
<text x="191.1" y="327" font-size="9" font-weight="bold" text-anchor="start" fill="#000">***</text>
<text x="191.1" y="334.1" font-size="9" font-weight="bold" text-anchor="start" fill="#000">***</text>
<text x="191.1" y="340.9" font-size="9" font-weight="bold" text-anchor="start" fill="#000">***</text>
<text x="49" y="239.2" font-size="8.85" font-weight="normal" text-anchor="start" fill="#000">Metformin</text>
<line x1="48.1" y1="248.6" x2="59.9" y2="248.6" stroke="#000" stroke-width="1.3" stroke-linecap="butt"/>
<circle cx="54" cy="248.6" r="2.3" fill="none" stroke="#000" stroke-width="1.1"/>
<text x="66.8" y="251.8" font-size="8.85" font-weight="normal" text-anchor="start" fill="#000">0 mM</text>
<line x1="48.1" y1="260" x2="59.9" y2="260" stroke="#000" stroke-width="1.3" stroke-linecap="butt"/>
<circle cx="54" cy="260" r="2.2" fill="#000"/>
<text x="66.8" y="263.2" font-size="8.85" font-weight="normal" text-anchor="start" fill="#000">2 mM</text>
<line x1="48.1" y1="271.2" x2="59.9" y2="271.2" stroke="#ff0000" stroke-width="1.3" stroke-linecap="butt"/>
<path d="M54 268.8L56.4 272.9L51.6 272.9Z" fill="#ff0000"/>
<text x="66.8" y="274.4" font-size="8.85" font-weight="normal" text-anchor="start" fill="#000">5 mM</text>
<line x1="48.1" y1="282.5" x2="59.9" y2="282.5" stroke="#0000ff" stroke-width="1.3" stroke-linecap="butt"/>
<path d="M54 284.9L56.4 280.8L51.6 280.8Z" fill="#0000ff"/>
<text x="66.8" y="285.7" font-size="8.85" font-weight="normal" text-anchor="start" fill="#000">10 mM</text>
<line x1="48.1" y1="293.5" x2="59.9" y2="293.5" stroke="#138a13" stroke-width="1.3" stroke-linecap="butt"/>
<path d="M54 291.1L56.3 293.5L54 295.9L51.7 293.5Z" fill="#138a13"/>
<text x="66.8" y="296.7" font-size="8.85" font-weight="normal" text-anchor="start" fill="#000">20 mM</text>
<text x="115" y="238.6" font-size="10.5" font-weight="bold" text-anchor="start" fill="#000">MB49</text>
<text transform="translate(0.2 216.5) scale(1.07 1)" font-size="21.5" font-weight="bold">D</text>
<line x1="285.3" y1="242.8" x2="285.3" y2="353.47" stroke="#000" stroke-width="1.15" stroke-linecap="butt"/>
<line x1="282.1" y1="352.9" x2="285.3" y2="352.9" stroke="#000" stroke-width="1.15" stroke-linecap="butt"/>
<text x="281.3" y="355.9" font-size="8.4" font-weight="bold" text-anchor="end" fill="#000">0.0</text>
<line x1="282.1" y1="325.5" x2="285.3" y2="325.5" stroke="#000" stroke-width="1.15" stroke-linecap="butt"/>
<text x="281.3" y="328.5" font-size="8.4" font-weight="bold" text-anchor="end" fill="#000">0.5</text>
<line x1="282.1" y1="298.1" x2="285.3" y2="298.1" stroke="#000" stroke-width="1.15" stroke-linecap="butt"/>
<text x="281.3" y="301.1" font-size="8.4" font-weight="bold" text-anchor="end" fill="#000">1.0</text>
<line x1="282.1" y1="270.7" x2="285.3" y2="270.7" stroke="#000" stroke-width="1.15" stroke-linecap="butt"/>
<text x="281.3" y="273.7" font-size="8.4" font-weight="bold" text-anchor="end" fill="#000">1.5</text>
<line x1="282.1" y1="243.3" x2="285.3" y2="243.3" stroke="#000" stroke-width="1.15" stroke-linecap="butt"/>
<text x="281.3" y="246.3" font-size="8.4" font-weight="bold" text-anchor="end" fill="#000">2.0</text>
<line x1="284.73" y1="352.9" x2="450.8" y2="352.9" stroke="#000" stroke-width="1.15" stroke-linecap="butt"/>
<line x1="310" y1="352.9" x2="310" y2="356.1" stroke="#000" stroke-width="1.15" stroke-linecap="butt"/>
<text x="310" y="365.3" font-size="8.4" font-weight="bold" text-anchor="middle" fill="#000">0</text>
<line x1="348.2" y1="352.9" x2="348.2" y2="356.1" stroke="#000" stroke-width="1.15" stroke-linecap="butt"/>
<text x="348.2" y="365.3" font-size="8.4" font-weight="bold" text-anchor="middle" fill="#000">24</text>
<line x1="386.5" y1="352.9" x2="386.5" y2="356.1" stroke="#000" stroke-width="1.15" stroke-linecap="butt"/>
<text x="386.5" y="365.3" font-size="8.4" font-weight="bold" text-anchor="middle" fill="#000">48</text>
<line x1="424.5" y1="352.9" x2="424.5" y2="356.1" stroke="#000" stroke-width="1.15" stroke-linecap="butt"/>
<text x="424.5" y="365.3" font-size="8.4" font-weight="bold" text-anchor="middle" fill="#000">72</text>
<line x1="302.8" y1="370.7" x2="435" y2="370.7" stroke="#000" stroke-width="2" stroke-linecap="butt"/>
<text x="369.2" y="383.6" font-size="9" font-weight="bold" text-anchor="middle" fill="#000">Time (h)</text>
<text x="263.4" y="297.6" font-size="9" font-weight="bold" text-anchor="middle" fill="#000" transform="rotate(-90 263.4 297.6)">Relative cell viability (OD)</text>
<polyline points="310,336.46 348.2,315.09 386.5,292.07 424.5,263.58" fill="none" stroke="#000" stroke-width="1.15" stroke-linejoin="round"/>
<path d="M310 335.36V337.56M308 335.36H312M308 337.56H312" stroke="#000" stroke-width="1.0" fill="none"/>
<path d="M348.2 313.44V316.73M346.2 313.44H350.2M346.2 316.73H350.2" stroke="#000" stroke-width="1.0" fill="none"/>
<path d="M386.5 290.43V293.72M384.5 290.43H388.5M384.5 293.72H388.5" stroke="#000" stroke-width="1.0" fill="none"/>
<path d="M424.5 260.29V266.86M422.5 260.29H426.5M422.5 266.86H426.5" stroke="#000" stroke-width="1.0" fill="none"/>
<polyline points="310,336.46 348.2,315.64 386.5,292.62 424.5,272.89" fill="none" stroke="#000" stroke-width="1.15" stroke-linejoin="round"/>
<path d="M310 335.36V337.56M308 335.36H312M308 337.56H312" stroke="#000" stroke-width="1.0" fill="none"/>
<path d="M348.2 313.99V317.28M346.2 313.99H350.2M346.2 317.28H350.2" stroke="#000" stroke-width="1.0" fill="none"/>
<path d="M386.5 290.98V294.26M384.5 290.98H388.5M384.5 294.26H388.5" stroke="#000" stroke-width="1.0" fill="none"/>
<path d="M424.5 269.6V276.18M422.5 269.6H426.5M422.5 276.18H426.5" stroke="#000" stroke-width="1.0" fill="none"/>
<polyline points="310,337.01 348.2,314.54 386.5,295.36 424.5,284.4" fill="none" stroke="#ff0000" stroke-width="1.15" stroke-linejoin="round"/>
<path d="M310 335.91V338.1M308 335.91H312M308 338.1H312" stroke="#ff0000" stroke-width="1.0" fill="none"/>
<path d="M348.2 312.9V316.18M346.2 312.9H350.2M346.2 316.18H350.2" stroke="#ff0000" stroke-width="1.0" fill="none"/>
<path d="M386.5 293.17V297.55M384.5 293.17H388.5M384.5 297.55H388.5" stroke="#ff0000" stroke-width="1.0" fill="none"/>
<path d="M424.5 278.92V289.88M422.5 278.92H426.5M422.5 289.88H426.5" stroke="#ff0000" stroke-width="1.0" fill="none"/>
<polyline points="310,336.46 348.2,317.28 386.5,303.58 424.5,301.94" fill="none" stroke="#0000ff" stroke-width="1.15" stroke-linejoin="round"/>
<path d="M310 335.36V337.56M308 335.36H312M308 337.56H312" stroke="#0000ff" stroke-width="1.0" fill="none"/>
<path d="M348.2 315.64V318.92M346.2 315.64H350.2M346.2 318.92H350.2" stroke="#0000ff" stroke-width="1.0" fill="none"/>
<path d="M386.5 301.39V305.77M384.5 301.39H388.5M384.5 305.77H388.5" stroke="#0000ff" stroke-width="1.0" fill="none"/>
<path d="M424.5 295.36V308.51M422.5 295.36H426.5M422.5 308.51H426.5" stroke="#0000ff" stroke-width="1.0" fill="none"/>
<polyline points="310,337.01 348.2,321.12 386.5,319.47 424.5,330.43" fill="none" stroke="#138a13" stroke-width="1.15" stroke-linejoin="round"/>
<path d="M310 335.91V338.1M308 335.91H312M308 338.1H312" stroke="#138a13" stroke-width="1.0" fill="none"/>
<path d="M348.2 319.47V322.76M346.2 319.47H350.2M346.2 322.76H350.2" stroke="#138a13" stroke-width="1.0" fill="none"/>
<path d="M386.5 316.73V322.21M384.5 316.73H388.5M384.5 322.21H388.5" stroke="#138a13" stroke-width="1.0" fill="none"/>
<path d="M424.5 325.5V335.36M422.5 325.5H426.5M422.5 335.36H426.5" stroke="#138a13" stroke-width="1.0" fill="none"/>
<circle cx="310" cy="336.46" r="2.3" fill="none" stroke="#000" stroke-width="1.1"/>
<circle cx="348.2" cy="315.09" r="2.3" fill="none" stroke="#000" stroke-width="1.1"/>
<circle cx="386.5" cy="292.07" r="2.3" fill="none" stroke="#000" stroke-width="1.1"/>
<circle cx="424.5" cy="263.58" r="2.3" fill="none" stroke="#000" stroke-width="1.1"/>
<circle cx="310" cy="336.46" r="2.2" fill="#000"/>
<circle cx="348.2" cy="315.64" r="2.2" fill="#000"/>
<circle cx="386.5" cy="292.62" r="2.2" fill="#000"/>
<circle cx="424.5" cy="272.89" r="2.2" fill="#000"/>
<path d="M310 334.61L312.4 338.71L307.6 338.71Z" fill="#ff0000"/>
<path d="M348.2 312.14L350.6 316.24L345.8 316.24Z" fill="#ff0000"/>
<path d="M386.5 292.96L388.9 297.06L384.1 297.06Z" fill="#ff0000"/>
<path d="M424.5 282L426.9 286.1L422.1 286.1Z" fill="#ff0000"/>
<path d="M310 338.86L312.4 334.76L307.6 334.76Z" fill="#0000ff"/>
<path d="M348.2 319.68L350.6 315.58L345.8 315.58Z" fill="#0000ff"/>
<path d="M386.5 305.98L388.9 301.88L384.1 301.88Z" fill="#0000ff"/>
<path d="M424.5 304.34L426.9 300.24L422.1 300.24Z" fill="#0000ff"/>
<path d="M310 334.61L312.3 337.01L310 339.41L307.7 337.01Z" fill="#138a13"/>
<path d="M348.2 318.72L350.5 321.12L348.2 323.52L345.9 321.12Z" fill="#138a13"/>
<path d="M386.5 317.07L388.8 319.47L386.5 321.87L384.2 319.47Z" fill="#138a13"/>
<path d="M424.5 328.03L426.8 330.43L424.5 332.83L422.2 330.43Z" fill="#138a13"/>
<text x="428.8" y="287.9" font-size="9" font-weight="bold" text-anchor="start" fill="#000">***</text>
<text x="428.8" y="305.8" font-size="9" font-weight="bold" text-anchor="start" fill="#000">***</text>
<text x="428.8" y="334.7" font-size="9" font-weight="bold" text-anchor="start" fill="#000">***</text>
<text x="290.8" y="249.8" font-size="8.85" font-weight="normal" text-anchor="start" fill="#000">Metformin</text>
<line x1="289.9" y1="258.7" x2="301.7" y2="258.7" stroke="#000" stroke-width="1.3" stroke-linecap="butt"/>
<circle cx="295.8" cy="258.7" r="2.3" fill="none" stroke="#000" stroke-width="1.1"/>
<text x="307.9" y="261.9" font-size="8.85" font-weight="normal" text-anchor="start" fill="#000">0 mM</text>
<line x1="289.9" y1="271.5" x2="301.7" y2="271.5" stroke="#000" stroke-width="1.3" stroke-linecap="butt"/>
<circle cx="295.8" cy="271.5" r="2.2" fill="#000"/>
<text x="307.9" y="274.7" font-size="8.85" font-weight="normal" text-anchor="start" fill="#000">25 mM</text>
<line x1="289.9" y1="284.3" x2="301.7" y2="284.3" stroke="#ff0000" stroke-width="1.3" stroke-linecap="butt"/>
<path d="M295.8 281.9L298.2 286L293.4 286Z" fill="#ff0000"/>
<text x="307.9" y="287.5" font-size="8.85" font-weight="normal" text-anchor="start" fill="#000">30 mM</text>
<line x1="289.9" y1="296.5" x2="301.7" y2="296.5" stroke="#0000ff" stroke-width="1.3" stroke-linecap="butt"/>
<path d="M295.8 298.9L298.2 294.8L293.4 294.8Z" fill="#0000ff"/>
<text x="307.9" y="299.7" font-size="8.85" font-weight="normal" text-anchor="start" fill="#000">35 mM</text>
<line x1="289.9" y1="309" x2="301.7" y2="309" stroke="#138a13" stroke-width="1.3" stroke-linecap="butt"/>
<path d="M295.8 306.6L298.1 309L295.8 311.4L293.5 309Z" fill="#138a13"/>
<text x="307.9" y="312.2" font-size="8.85" font-weight="normal" text-anchor="start" fill="#000">40 mM</text>
<text x="358.2" y="237.8" font-size="10.5" font-weight="bold" text-anchor="start" fill="#000">T24</text>
<text transform="translate(236.7 216.5) scale(1.07 1)" font-size="21.5" font-weight="bold">E</text>
<line x1="518.3" y1="242" x2="518.3" y2="352.57" stroke="#000" stroke-width="1.15" stroke-linecap="butt"/>
<line x1="515.1" y1="352" x2="518.3" y2="352" stroke="#000" stroke-width="1.15" stroke-linecap="butt"/>
<text x="514.3" y="355" font-size="8.4" font-weight="bold" text-anchor="end" fill="#000">0.0</text>
<line x1="515.1" y1="315.5" x2="518.3" y2="315.5" stroke="#000" stroke-width="1.15" stroke-linecap="butt"/>
<text x="514.3" y="318.5" font-size="8.4" font-weight="bold" text-anchor="end" fill="#000">0.5</text>
<line x1="515.1" y1="279" x2="518.3" y2="279" stroke="#000" stroke-width="1.15" stroke-linecap="butt"/>
<text x="514.3" y="282" font-size="8.4" font-weight="bold" text-anchor="end" fill="#000">1.0</text>
<line x1="515.1" y1="242.5" x2="518.3" y2="242.5" stroke="#000" stroke-width="1.15" stroke-linecap="butt"/>
<text x="514.3" y="245.5" font-size="8.4" font-weight="bold" text-anchor="end" fill="#000">1.5</text>
<line x1="517.72" y1="352" x2="679.7" y2="352" stroke="#000" stroke-width="1.15" stroke-linecap="butt"/>
<line x1="543.4" y1="352" x2="543.4" y2="355.2" stroke="#000" stroke-width="1.15" stroke-linecap="butt"/>
<text x="543.4" y="364.8" font-size="8.4" font-weight="bold" text-anchor="middle" fill="#000">0</text>
<line x1="581.4" y1="352" x2="581.4" y2="355.2" stroke="#000" stroke-width="1.15" stroke-linecap="butt"/>
<text x="581.4" y="364.8" font-size="8.4" font-weight="bold" text-anchor="middle" fill="#000">24</text>
<line x1="619.4" y1="352" x2="619.4" y2="355.2" stroke="#000" stroke-width="1.15" stroke-linecap="butt"/>
<text x="619.4" y="364.8" font-size="8.4" font-weight="bold" text-anchor="middle" fill="#000">48</text>
<line x1="657.8" y1="352" x2="657.8" y2="355.2" stroke="#000" stroke-width="1.15" stroke-linecap="butt"/>
<text x="657.8" y="364.8" font-size="8.4" font-weight="bold" text-anchor="middle" fill="#000">72</text>
<line x1="534.7" y1="370.2" x2="665.8" y2="370.2" stroke="#000" stroke-width="2" stroke-linecap="butt"/>
<text x="600.9" y="384" font-size="9" font-weight="bold" text-anchor="middle" fill="#000">Time (h)</text>
<text x="496.1" y="296.7" font-size="9" font-weight="bold" text-anchor="middle" fill="#000" transform="rotate(-90 496.1 296.7)">Relative cell viability (OD)</text>
<polyline points="543.4,341.05 581.4,329.37 619.4,310.39 657.8,292.87" fill="none" stroke="#ff0000" stroke-width="1.15" stroke-linejoin="round"/>
<path d="M543.4 340.32V341.78M541.4 340.32H545.4M541.4 341.78H545.4" stroke="#ff0000" stroke-width="1.0" fill="none"/>
<path d="M581.4 327.91V330.83M579.4 327.91H583.4M579.4 330.83H583.4" stroke="#ff0000" stroke-width="1.0" fill="none"/>
<path d="M619.4 308.2V312.58M617.4 308.2H621.4M617.4 312.58H621.4" stroke="#ff0000" stroke-width="1.0" fill="none"/>
<path d="M657.8 287.03V298.71M655.8 287.03H659.8M655.8 298.71H659.8" stroke="#ff0000" stroke-width="1.0" fill="none"/>
<polyline points="543.4,340.32 581.4,329.37 619.4,322.8 657.8,325.72" fill="none" stroke="#0000ff" stroke-width="1.15" stroke-linejoin="round"/>
<path d="M543.4 339.59V341.05M541.4 339.59H545.4M541.4 341.05H545.4" stroke="#0000ff" stroke-width="1.0" fill="none"/>
<path d="M581.4 327.91V330.83M579.4 327.91H583.4M579.4 330.83H583.4" stroke="#0000ff" stroke-width="1.0" fill="none"/>
<path d="M619.4 319.88V325.72M617.4 319.88H621.4M617.4 325.72H621.4" stroke="#0000ff" stroke-width="1.0" fill="none"/>
<path d="M657.8 320.98V330.47M655.8 320.98H659.8M655.8 330.47H659.8" stroke="#0000ff" stroke-width="1.0" fill="none"/>
<polyline points="543.4,339.59 581.4,335.21 619.4,342.51 657.8,346.16" fill="none" stroke="#00bb00" stroke-width="1.15" stroke-linejoin="round"/>
<path d="M543.4 338.86V340.32M541.4 338.86H545.4M541.4 340.32H545.4" stroke="#00bb00" stroke-width="1.0" fill="none"/>
<path d="M581.4 332.29V338.13M579.4 332.29H583.4M579.4 338.13H583.4" stroke="#00bb00" stroke-width="1.0" fill="none"/>
<path d="M619.4 341.41V343.61M617.4 341.41H621.4M617.4 343.61H621.4" stroke="#00bb00" stroke-width="1.0" fill="none"/>
<path d="M657.8 344.7V347.62M655.8 344.7H659.8M655.8 347.62H659.8" stroke="#00bb00" stroke-width="1.0" fill="none"/>
<polyline points="543.4,341.78 581.4,329.37 619.4,306.74 657.8,280.46" fill="none" stroke="#000" stroke-width="1.15" stroke-linejoin="round"/>
<path d="M543.4 341.05V342.51M541.4 341.05H545.4M541.4 342.51H545.4" stroke="#000" stroke-width="1.0" fill="none"/>
<path d="M581.4 327.91V330.83M579.4 327.91H583.4M579.4 330.83H583.4" stroke="#000" stroke-width="1.0" fill="none"/>
<path d="M619.4 300.9V312.58M617.4 300.9H621.4M617.4 312.58H621.4" stroke="#000" stroke-width="1.0" fill="none"/>
<path d="M657.8 277.54V283.38M655.8 277.54H659.8M655.8 283.38H659.8" stroke="#000" stroke-width="1.0" fill="none"/>
<polyline points="543.4,342.51 581.4,330.1 619.4,308.64 657.8,298.71" fill="none" stroke="#000" stroke-width="1.15" stroke-linejoin="round"/>
<path d="M543.4 341.78V343.24M541.4 341.78H545.4M541.4 343.24H545.4" stroke="#000" stroke-width="1.0" fill="none"/>
<path d="M581.4 328.64V331.56M579.4 328.64H583.4M579.4 331.56H583.4" stroke="#000" stroke-width="1.0" fill="none"/>
<path d="M619.4 304.99V312.29M617.4 304.99H621.4M617.4 312.29H621.4" stroke="#000" stroke-width="1.0" fill="none"/>
<path d="M657.8 296.52V300.9M655.8 296.52H659.8M655.8 300.9H659.8" stroke="#000" stroke-width="1.0" fill="none"/>
<path d="M543.4 338.65L545.8 342.75L541 342.75Z" fill="#ff0000"/>
<path d="M581.4 326.97L583.8 331.07L579 331.07Z" fill="#ff0000"/>
<path d="M619.4 307.99L621.8 312.09L617 312.09Z" fill="#ff0000"/>
<path d="M657.8 290.47L660.2 294.57L655.4 294.57Z" fill="#ff0000"/>
<path d="M543.4 342.72L545.8 338.62L541 338.62Z" fill="#0000ff"/>
<path d="M581.4 331.77L583.8 327.67L579 327.67Z" fill="#0000ff"/>
<path d="M619.4 325.2L621.8 321.1L617 321.1Z" fill="#0000ff"/>
<path d="M657.8 328.12L660.2 324.02L655.4 324.02Z" fill="#0000ff"/>
<path d="M543.4 337.19L545.7 339.59L543.4 341.99L541.1 339.59Z" fill="#00bb00"/>
<path d="M581.4 332.81L583.7 335.21L581.4 337.61L579.1 335.21Z" fill="#00bb00"/>
<path d="M619.4 340.11L621.7 342.51L619.4 344.91L617.1 342.51Z" fill="#00bb00"/>
<path d="M657.8 343.76L660.1 346.16L657.8 348.56L655.5 346.16Z" fill="#00bb00"/>
<circle cx="543.4" cy="341.78" r="2.3" fill="none" stroke="#000" stroke-width="1.1"/>
<circle cx="581.4" cy="329.37" r="2.3" fill="none" stroke="#000" stroke-width="1.1"/>
<circle cx="619.4" cy="306.74" r="2.3" fill="none" stroke="#000" stroke-width="1.1"/>
<circle cx="657.8" cy="280.46" r="2.3" fill="none" stroke="#000" stroke-width="1.1"/>
<circle cx="543.4" cy="342.51" r="2.2" fill="#000"/>
<circle cx="581.4" cy="330.1" r="2.2" fill="#000"/>
<circle cx="619.4" cy="308.64" r="2.2" fill="#000"/>
<circle cx="657.8" cy="298.71" r="2.2" fill="#000"/>
<text x="664.9" y="297.6" font-size="9" font-weight="bold" text-anchor="start" fill="#000">***</text>
<text x="664.9" y="305.9" font-size="9" font-weight="bold" text-anchor="start" fill="#000">***</text>
<text x="664.9" y="330.4" font-size="9" font-weight="bold" text-anchor="start" fill="#000">***</text>
<text x="664.9" y="350.3" font-size="9" font-weight="bold" text-anchor="start" fill="#000">***</text>
<text x="524.3" y="254" font-size="8.85" font-weight="normal" text-anchor="start" fill="#000">Metformin</text>
<line x1="523.1" y1="265.1" x2="535.5" y2="265.1" stroke="#000" stroke-width="1.3" stroke-linecap="butt"/>
<circle cx="529.3" cy="265.1" r="2.3" fill="none" stroke="#000" stroke-width="1.1"/>
<text x="541" y="268.3" font-size="8.85" font-weight="normal" text-anchor="start" fill="#000">0 mM</text>
<line x1="523.1" y1="281.4" x2="535.5" y2="281.4" stroke="#000" stroke-width="1.3" stroke-linecap="butt"/>
<circle cx="529.3" cy="281.4" r="2.2" fill="#000"/>
<text x="541" y="284.6" font-size="8.85" font-weight="normal" text-anchor="start" fill="#000">10 mM</text>
<line x1="523.1" y1="295.1" x2="535.5" y2="295.1" stroke="#ff0000" stroke-width="1.3" stroke-linecap="butt"/>
<path d="M529.3 292.7L531.7 296.8L526.9 296.8Z" fill="#ff0000"/>
<text x="541" y="298.3" font-size="8.85" font-weight="normal" text-anchor="start" fill="#000">20 mM</text>
<line x1="523.1" y1="307.4" x2="535.5" y2="307.4" stroke="#0000ff" stroke-width="1.3" stroke-linecap="butt"/>
<path d="M529.3 309.8L531.7 305.7L526.9 305.7Z" fill="#0000ff"/>
<text x="541" y="310.6" font-size="8.85" font-weight="normal" text-anchor="start" fill="#000">40 mM</text>
<line x1="523.1" y1="321.9" x2="535.5" y2="321.9" stroke="#00bb00" stroke-width="1.3" stroke-linecap="butt"/>
<path d="M529.3 319.5L531.6 321.9L529.3 324.3L527 321.9Z" fill="#00bb00"/>
<text x="541" y="325.1" font-size="8.85" font-weight="normal" text-anchor="start" fill="#000">60 mM</text>
<text x="589.1" y="237.3" font-size="10.5" font-weight="bold" text-anchor="start" fill="#000">5637</text>
<text transform="translate(464 216.5) scale(1.07 1)" font-size="21.5" font-weight="bold">F</text>
</svg>
</body></html>
